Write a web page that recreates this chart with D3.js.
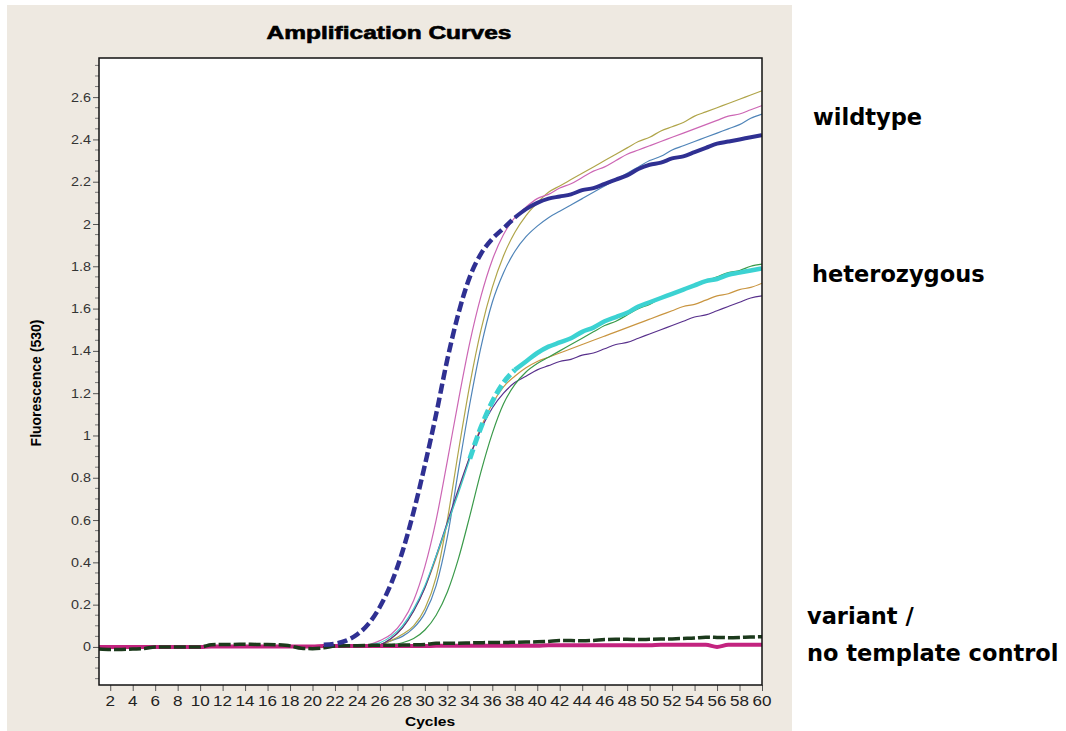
<!DOCTYPE html>
<html>
<head>
<meta charset="utf-8">
<script src="https://cdn.jsdelivr.net/npm/d3@7"></script>
<style>
  body { margin: 0; background: #fff; }
  svg { display: block; }
</style>
</head>
<body>
<svg id="chart" width="1066" height="731"></svg>
<script>
// cycles 1..60
var cycles = d3.range(1, 61);
var xTicks = d3.range(2, 61, 2);
var yTicks = [0, 0.2, 0.4, 0.6, 0.8, 1, 1.2, 1.4, 1.6, 1.8, 2, 2.2, 2.4, 2.6];

// wildtype samples
var wt1 = [0, 0, 0, 0, 0, 0, 0, 0, 0, 0,
  0, 0, 0, 0, 0, 0, 0, 0, 0.005, 0.008,
  0.01, 0.015, 0.03, 0.06, 0.11, 0.19, 0.3, 0.45, 0.64, 0.86,
  1.1, 1.36, 1.58, 1.75, 1.86, 1.93, 1.98, 2.03, 2.07, 2.1,
  2.12, 2.13, 2.14, 2.16, 2.17, 2.19, 2.21, 2.23, 2.26, 2.28,
  2.29, 2.31, 2.32, 2.34, 2.36, 2.38, 2.39, 2.4, 2.41, 2.42];
var wt2 = [0, 0, 0, 0, 0, 0, 0, 0, 0, 0,
  0, 0, 0, 0, 0, 0, 0, 0, 0, 0,
  0, 0, 0, 0, 0.01, 0.03, 0.06, 0.12, 0.22, 0.38,
  0.6, 0.88, 1.17, 1.44, 1.66, 1.83, 1.95, 2.03, 2.08, 2.12,
  2.14, 2.17, 2.19, 2.22, 2.25, 2.27, 2.3, 2.33, 2.35, 2.37,
  2.39, 2.41, 2.43, 2.45, 2.47, 2.49, 2.51, 2.52, 2.54, 2.56];
var wt3 = [0, 0, 0, 0, 0, 0, 0, 0, 0, 0,
  0, 0, 0, 0, 0, 0, 0, 0, 0, 0,
  0, 0, 0, 0, 0, 0.01, 0.03, 0.06, 0.1, 0.18,
  0.33, 0.6, 0.93, 1.24, 1.5, 1.7, 1.85, 1.96, 2.04, 2.1,
  2.15, 2.18, 2.21, 2.24, 2.27, 2.3, 2.33, 2.36, 2.39, 2.41,
  2.44, 2.46, 2.48, 2.51, 2.53, 2.55, 2.57, 2.59, 2.61, 2.63];
var wt4 = [0, 0, 0, 0, 0, 0, 0, 0, 0, 0,
  0, 0, 0, 0, 0, 0, 0, 0, 0, 0,
  0, 0, 0, 0, 0, 0.01, 0.03, 0.05, 0.09, 0.16,
  0.29, 0.52, 0.84, 1.15, 1.42, 1.63, 1.77, 1.87, 1.94, 1.99,
  2.03, 2.06, 2.09, 2.12, 2.15, 2.18, 2.21, 2.24, 2.27, 2.3,
  2.32, 2.35, 2.37, 2.39, 2.41, 2.43, 2.45, 2.47, 2.5, 2.52];

// heterozygous samples
var het1 = [0, 0, 0, 0, 0, 0, 0, 0, 0, 0,
  0, 0, 0, 0, 0, 0, 0, 0, 0, 0,
  0, 0, 0, 0, 0.01, 0.02, 0.05, 0.1, 0.18, 0.29,
  0.43, 0.58, 0.73, 0.89, 1.04, 1.16, 1.25, 1.31, 1.35, 1.39,
  1.42, 1.44, 1.46, 1.49, 1.51, 1.54, 1.56, 1.58, 1.61, 1.63,
  1.65, 1.67, 1.69, 1.71, 1.73, 1.74, 1.76, 1.77, 1.78, 1.79];
var het2 = [0, 0, 0, 0, 0, 0, 0, 0, 0, 0,
  0, 0, 0, 0, 0, 0, 0, 0, 0, 0,
  0, 0, 0, 0, 0, 0, 0.01, 0.02, 0.04, 0.08,
  0.15, 0.26, 0.42, 0.62, 0.83, 1.01, 1.15, 1.24, 1.3, 1.34,
  1.37, 1.4, 1.43, 1.46, 1.49, 1.52, 1.54, 1.57, 1.6, 1.62,
  1.65, 1.67, 1.69, 1.71, 1.73, 1.75, 1.77, 1.78, 1.8, 1.81];
var het3 = [0, 0, 0, 0, 0, 0, 0, 0, 0, 0,
  0, 0, 0, 0, 0, 0, 0, 0, 0, 0,
  0, 0, 0, 0, 0, 0.01, 0.04, 0.09, 0.17, 0.28,
  0.42, 0.58, 0.74, 0.9, 1.04, 1.15, 1.23, 1.28, 1.32, 1.35,
  1.37, 1.39, 1.41, 1.43, 1.45, 1.47, 1.49, 1.51, 1.53, 1.55,
  1.57, 1.59, 1.61, 1.62, 1.64, 1.66, 1.67, 1.69, 1.7, 1.72];
var het4 = [0, 0, 0, 0, 0, 0, 0, 0, 0, 0,
  0, 0, 0, 0, 0, 0, 0, 0, 0, 0,
  0, 0, 0, 0, 0, 0.01, 0.04, 0.09, 0.17, 0.28,
  0.43, 0.59, 0.75, 0.9, 1.03, 1.13, 1.2, 1.25, 1.28, 1.31,
  1.33, 1.35, 1.36, 1.38, 1.39, 1.41, 1.43, 1.44, 1.46, 1.48,
  1.5, 1.52, 1.54, 1.56, 1.57, 1.59, 1.61, 1.63, 1.65, 1.66];

// variant / no template control
var ntc = [0, 0, 0, 0, 0, 0, 0, 0, 0, 0,
  0.002, 0.002, 0.002, 0.002, 0.002, 0.002, 0.002, 0.002, 0.002, 0.002,
  0.004, 0.004, 0.004, 0.004, 0.004, 0.004, 0.004, 0.004, 0.004, 0.004,
  0.006, 0.006, 0.006, 0.006, 0.006, 0.006, 0.006, 0.006, 0.006, 0.006,
  0.008, 0.008, 0.008, 0.008, 0.008, 0.008, 0.008, 0.008, 0.008, 0.008,
  0.01, 0.01, 0.01, 0.01, 0.01, 0, 0.01, 0.01, 0.01, 0.01];
var variant = [-0.01, -0.012, -0.012, -0.01, -0.008, 0, 0, 0, 0, 0,
  0.01, 0.012, 0.012, 0.013, 0.012, 0.012, 0.01, 0.005, -0.006, -0.008,
  -0.004, 0.004, 0.006, 0.006, 0.007, 0.008, 0.008, 0.009, 0.01, 0.012,
  0.017, 0.018, 0.018, 0.019, 0.02, 0.021, 0.021, 0.022, 0.023, 0.024,
  0.026, 0.03, 0.03, 0.029, 0.031, 0.035, 0.036, 0.036, 0.035, 0.036,
  0.037, 0.038, 0.04, 0.042, 0.046, 0.045, 0.044, 0.045, 0.047, 0.048];

var svg = d3.select('#chart');
var plotL = 99, plotR = 762, plotT = 58, plotB = 685;

var x = d3.scaleLinear().domain([1, 60]).range([plotL, plotR]);
var y = d3.scaleLinear().domain([-0.18, 2.785]).range([plotB, plotT]);

svg.append('rect').attr('width', 1066).attr('height', 731).attr('fill', '#fff');
svg.append('rect')
  .attr('x', 7).attr('y', 5).attr('width', 785).attr('height', 726)
  .attr('fill', '#eee9e1');

svg.append('rect')
  .attr('x', plotL).attr('y', plotT)
  .attr('width', plotR - plotL).attr('height', plotB - plotT)
  .attr('fill', '#fff');

svg.append('clipPath').attr('id', 'clip')
  .append('rect')
  .attr('x', plotL).attr('y', plotT)
  .attr('width', plotR - plotL).attr('height', plotB - plotT);

// text that the original screenshot shows stretched sideways
function wideText(g, tx, ty, sx, str) {
  return g.append('text')
    .attr('transform', 'translate(' + tx + ',' + ty + ') scale(' + sx + ',1)')
    .text(str);
}

// title
wideText(svg, 389, 39, 1.4, 'Amplification Curves')
  .attr('text-anchor', 'middle')
  .style('font', 'bold 17.5px "Liberation Sans", Arial, sans-serif')
  .attr('fill', '#000').attr('stroke', '#000').attr('stroke-width', 0.6);

// y axis
var yAxis = d3.axisLeft(y).tickValues(yTicks).tickSize(6).tickFormat('');
var gy = svg.append('g').attr('transform', 'translate(' + plotL + ',0)').call(yAxis);
gy.select('.domain').remove();
gy.selectAll('line').attr('stroke', '#555');
var minorY = d3.range(-3, 56).map(function (i) { return i * 0.05; })
  .filter(function (v) { return Math.abs(Math.round(v * 5) - v * 5) > 0.01; });
svg.append('g').selectAll('line').data(minorY).enter().append('line')
  .attr('x1', plotL - 4).attr('x2', plotL)
  .attr('y1', function (d) { return y(d); }).attr('y2', function (d) { return y(d); })
  .attr('stroke', '#777');
var yLab = svg.append('g')
  .style('font', '12.5px "Liberation Sans", Arial, sans-serif')
  .attr('fill', '#333');
yTicks.forEach(function (t) {
  wideText(yLab, 91, y(t) + 4.5, 1.15, String(+t.toFixed(1))).attr('text-anchor', 'end');
});

// x axis
var xAxis = d3.axisBottom(x).tickValues(xTicks).tickSize(6).tickFormat('');
var gx = svg.append('g').attr('transform', 'translate(0,' + plotB + ')').call(xAxis);
gx.select('.domain').remove();
gx.selectAll('line').attr('stroke', '#555');
var xLab = svg.append('g')
  .style('font', '14px "Liberation Sans", Arial, sans-serif')
  .attr('fill', '#222');
xTicks.forEach(function (t) {
  wideText(xLab, x(t), 706, 1.22, String(t)).attr('text-anchor', 'middle');
});

wideText(svg, 430, 726, 1.2, 'Cycles')
  .attr('text-anchor', 'middle')
  .style('font', 'bold 13px "Liberation Sans", Arial, sans-serif');

svg.append('text')
  .attr('transform', 'translate(41,383) rotate(-90)')
  .attr('text-anchor', 'middle')
  .style('font', 'bold 14px "Liberation Sans", Arial, sans-serif')
  .text('Fluorescence (530)');

// curves
var plot = svg.append('g').attr('clip-path', 'url(#clip)');

function pts(arr, from, to) {
  return cycles.map(function (c, i) { return [c, arr[i]]; })
    .filter(function (p) { return p[0] >= from && p[0] <= to; });
}
var line = d3.line()
  .x(function (p) { return x(p[0]); })
  .y(function (p) { return y(p[1]); })
  .curve(d3.curveMonotoneX);

function draw(arr, from, to, color, width, dash) {
  plot.append('path')
    .attr('d', line(pts(arr, from, to)))
    .attr('fill', 'none')
    .attr('stroke', color)
    .attr('stroke-width', width)
    .attr('stroke-dasharray', dash || null);
}

draw(wt4, 1, 60, '#4f84b8', 1.2);
draw(wt3, 1, 60, '#b0a54a', 1.2);
draw(wt2, 1, 60, '#cc66b4', 1.2);
draw(het3, 1, 60, '#c99540', 1.2);
draw(het4, 1, 60, '#58308c', 1.2);
draw(het2, 1, 60, '#3a9a4a', 1.2);
draw(het1, 1, 34, '#3cc8c8', 1.2);

draw(ntc, 1, 60, '#c3237f', 4);
draw(variant, 1, 60, '#1c3a1c', 3.5, '12,3');

draw(het1, 34, 38, '#3cd2d2', 5, '10,4');
draw(het1, 38, 60, '#3cd2d2', 4.5);
draw(wt1, 21, 38, '#2f3092', 4.5, '10,4');
draw(wt1, 38, 60, '#2f3092', 4);

// frame
svg.append('rect')
  .attr('x', plotL).attr('y', plotT)
  .attr('width', plotR - plotL).attr('height', plotB - plotT)
  .attr('fill', 'none').attr('stroke', '#111').attr('stroke-width', 1.5);

// group labels on the right
var labels = svg.append('g')
  .style('font', 'bold 22.5px "DejaVu Sans", Verdana, sans-serif')
  .style('white-space', 'pre')
  .attr('fill', '#000');
labels.append('text').attr('x', 813).attr('y', 125).text('wildtype');
labels.append('text').attr('x', 812).attr('y', 282).text('heterozygous');
labels.append('text').attr('x', 807).attr('y', 624).text('variant  /');
labels.append('text').attr('x', 807).attr('y', 661).text('no template control');
</script>
</body>
</html>
